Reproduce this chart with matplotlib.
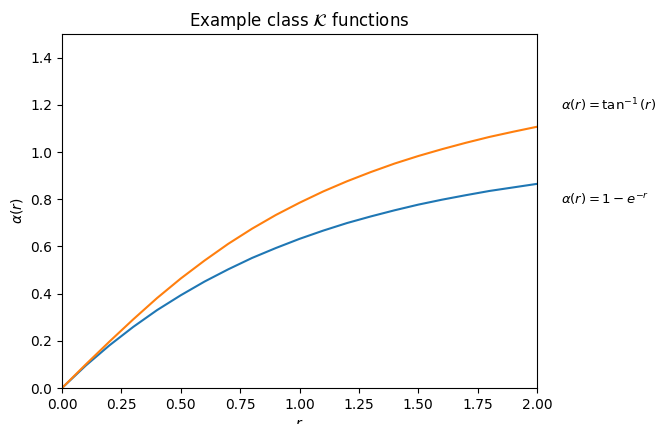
import matplotlib
matplotlib.use("Agg")
import matplotlib.pyplot as plt

# values at r = 0.0, 0.1, ..., 2.0
r_vals = [0.0, 0.1, 0.2, 0.3, 0.4, 0.5, 0.6, 0.7, 0.8, 0.9, 1.0,
          1.1, 1.2, 1.3, 1.4, 1.5, 1.6, 1.7, 1.8, 1.9, 2.0]
exp_vals = [0.0, 0.095, 0.181, 0.259, 0.330, 0.393, 0.451, 0.503, 0.551, 0.593, 0.632,
            0.667, 0.699, 0.727, 0.753, 0.777, 0.798, 0.817, 0.835, 0.850, 0.865]
atan_vals = [0.0, 0.100, 0.197, 0.291, 0.381, 0.464, 0.540, 0.611, 0.675, 0.733, 0.785,
             0.833, 0.876, 0.915, 0.951, 0.983, 1.012, 1.039, 1.064, 1.086, 1.107]

fig = plt.figure(figsize=(6.57, 4.24), dpi=100)
ax = fig.add_axes([0.0944, 0.0849, 0.7230, 0.8349])

ax.plot(r_vals, exp_vals, color="#1f77b4")
ax.plot(r_vals, atan_vals, color="#ff7f0e")

ax.text(2.1, 1.2, r"$\alpha(r) = \tan^{-1}(r)$", va="center", ha="left", fontsize=9.5)
ax.text(2.1, 0.8, r"$\alpha(r) = 1 - e^{-r}$", va="center", ha="left", fontsize=9.5)

ax.set_xlim(0, 2)
ax.set_ylim(0, 1.5)
ax.set_xlabel(r"$r$")
ax.set_ylabel(r"$\alpha(r)$")
ax.set_title(r"Example class $\mathcal{K}$ functions")

fig.savefig("out.png", dpi=100)
